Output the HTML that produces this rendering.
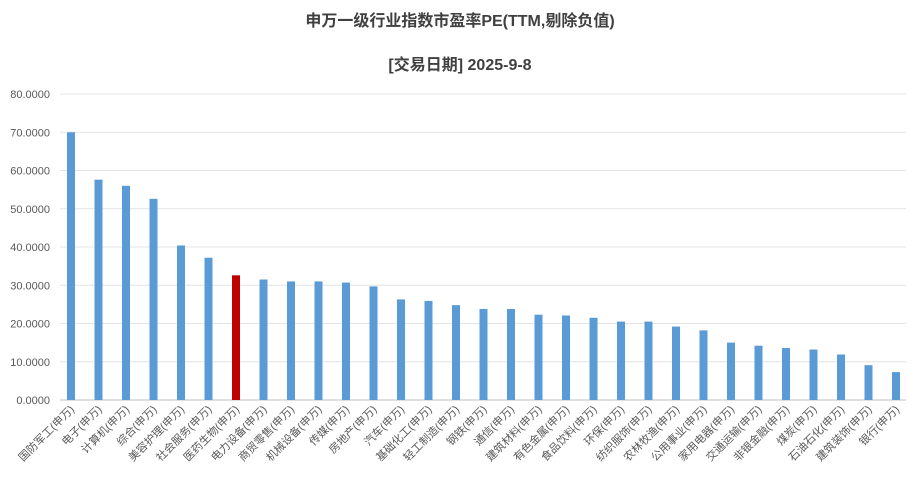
<!DOCTYPE html>
<html><head><meta charset="utf-8"><style>
body{margin:0;background:#fff;font-family:"Liberation Sans","Noto Sans CJK SC",sans-serif;}
</style></head><body>
<svg id="chart" width="920" height="486" xmlns="http://www.w3.org/2000/svg">
<text x="460" y="26" text-anchor="middle" font-size="16" font-weight="bold" fill="#404040" font-family="Liberation Sans,Noto Sans CJK SC,sans-serif">申万一级行业指数市盈率PE(TTM,剔除负值)</text>
<text x="460" y="70" text-anchor="middle" font-size="16" font-weight="bold" fill="#404040" font-family="Liberation Sans,Noto Sans CJK SC,sans-serif">[交易日期] 2025-9-8</text>
<g id="grid"></g><g id="bars"></g><g id="labels"></g>
</svg>
<script>
const categories=["国防军工(申万)","电子(申万)","计算机(申万)","综合(申万)","美容护理(申万)","社会服务(申万)","医药生物(申万)","电力设备(申万)","商贸零售(申万)","机械设备(申万)","传媒(申万)","房地产(申万)","汽车(申万)","基础化工(申万)","轻工制造(申万)","钢铁(申万)","通信(申万)","建筑材料(申万)","有色金属(申万)","食品饮料(申万)","环保(申万)","纺织服饰(申万)","农林牧渔(申万)","公用事业(申万)","家用电器(申万)","交通运输(申万)","非银金融(申万)","煤炭(申万)","石油石化(申万)","建筑装饰(申万)","银行(申万)"];
const values=[70.0,57.6,56.0,52.6,40.4,37.2,32.6,31.5,31.0,31.0,30.7,29.7,26.3,25.9,24.8,23.8,23.8,22.3,22.1,21.5,20.5,20.5,19.2,18.2,15.0,14.2,13.6,13.2,11.9,9.1,7.3];
const highlight="医药生物(申万)";
const yTicks=[0,10,20,30,40,50,60,70,80];
const NS="http://www.w3.org/2000/svg";
const y0=400,y1=94,yMax=80;
const yS=v=>y0-(v/yMax)*(y0-y1);
const x0=71,step=(896-71)/(categories.length-1);
const xS=i=>x0+i*step;
const grid=document.getElementById('grid'),bars=document.getElementById('bars'),labels=document.getElementById('labels');
yTicks.forEach(t=>{
 const l=document.createElementNS(NS,'line');
 
 
 l.setAttribute('x1',60);l.setAttribute('x2',906);l.setAttribute('y1',yS(t));l.setAttribute('y2',yS(t));
 l.setAttribute('stroke',t===0?'#bfbfbf':'#e4e4e4');l.setAttribute('stroke-width',1);
 grid.appendChild(l);
 const tx=document.createElementNS(NS,'text');
 
 
 tx.setAttribute('x',50);tx.setAttribute('y',yS(t)+4);tx.setAttribute('text-anchor','end');
 tx.setAttribute('font-size','11');tx.setAttribute('fill','#595959');
 tx.textContent=t.toFixed(4);
 grid.appendChild(tx);
});
categories.forEach((c,i)=>{
 const r=document.createElementNS(NS,'rect');
 
 
 const x=xS(i);
 r.setAttribute('x',x-4);r.setAttribute('width',8);
 r.setAttribute('y',yS(values[i]));r.setAttribute('height',y0-yS(values[i]));
 r.setAttribute('fill',c===highlight?'#c00000':'#5b9bd5');
 bars.appendChild(r);
 const t=document.createElementNS(NS,'text');
 
 
 t.setAttribute('text-anchor','end');t.setAttribute('font-size','11');t.setAttribute('fill','#595959');
 t.setAttribute('font-family','Liberation Sans,Noto Sans CJK SC,sans-serif');
 t.setAttribute('transform','translate('+(x+4)+','+(y0+10)+') rotate(-45)');
 t.textContent=c;
 labels.appendChild(t);
});
</script>
</body></html>
